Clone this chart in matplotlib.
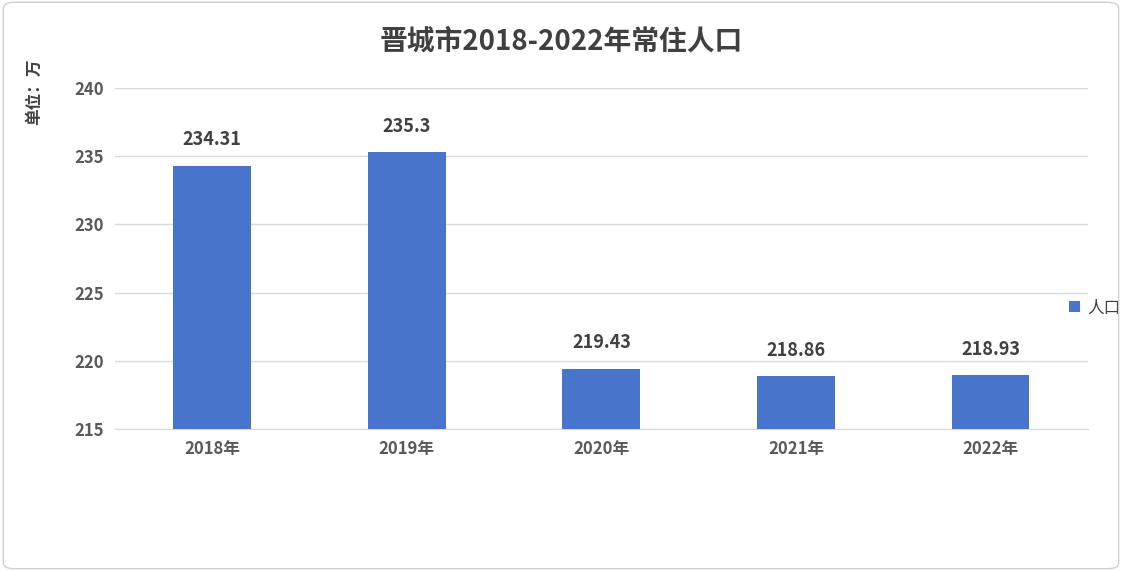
import matplotlib
matplotlib.use("Agg")
import matplotlib.pyplot as plt
from matplotlib.patches import FancyBboxPatch

plt.rcParams['font.family'] = ['Noto Sans CJK SC', 'DejaVu Sans']

categories = ["2018年", "2019年", "2020年", "2021年", "2022年"]
values = [234.31, 235.3, 219.43, 218.86, 218.93]
labels = ["234.31", "235.3", "219.43", "218.86", "218.93"]
yticks = [215, 220, 225, 230, 235, 240]

fig = plt.figure(figsize=(11.22, 5.71), dpi=100)
fig.patches.append(FancyBboxPatch((0.003, 0.004), 0.994, 0.992, boxstyle="round,pad=0,rounding_size=0.01",
                                  transform=fig.transFigure, fill=False, edgecolor="#d0d0d0", lw=1))
ax = fig.add_axes([0.1025, 0.2487, 0.867, 0.597])
x = range(len(categories))
ax.bar(x, values, width=0.4, color="#4874CB", label="人口", zorder=3)
for i, (v, l) in enumerate(zip(values, labels)):
    ax.text(i, v + 1.2, l, ha="center", va="bottom", fontsize=13, fontweight="bold", color="#404040")
ax.set_ylim(215, 240)
ax.set_yticks(yticks)
ax.set_xlim(-0.5, 4.5)
ax.set_xticks(list(x))
ax.set_xticklabels(categories)
ax.tick_params(axis="both", length=0, labelsize=12, colors="#595959", pad=8)
for t in ax.get_xticklabels() + ax.get_yticklabels():
    t.set_fontweight("bold")
ax.grid(axis="y", color="#d9d9d9", lw=1, zorder=0)
for s in ["top", "right", "left"]:
    ax.spines[s].set_visible(False)
ax.spines["bottom"].set_color("#d9d9d9")
fig.text(0.5, 0.928, "晋城市2018-2022年常住人口", ha="center", va="center", fontsize=20, fontweight="bold", color="#404040")
fig.text(0.03, 0.84, "单位：万", rotation=90, ha="center", va="center", fontsize=12, fontweight="bold", color="#404040")
ax.legend(loc="center left", bbox_to_anchor=(0.965, 0.355), frameon=False, fontsize=12,
          handlelength=0.7, handleheight=0.7, handletextpad=0.4, labelcolor="#404040")
fig.savefig("out.png", dpi=100)
